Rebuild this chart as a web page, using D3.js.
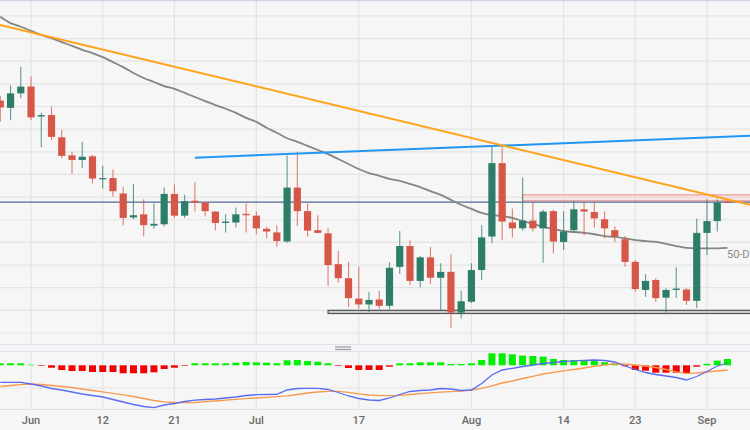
<!DOCTYPE html>
<html><head><meta charset="utf-8">
<script src="https://cdn.jsdelivr.net/npm/d3@7"></script>
<style>html,body{margin:0;padding:0;background:#f6f6f6;}svg{display:block;}</style>
</head><body>
<svg id="chart" width="750" height="430"></svg>
<script>
// ---- categories (trading days) ----
const dates = [
"2023-05-29","2023-05-30","2023-05-31",
"2023-06-01","2023-06-02","2023-06-05","2023-06-06","2023-06-07","2023-06-08","2023-06-09","2023-06-12","2023-06-13","2023-06-14","2023-06-15","2023-06-16","2023-06-19","2023-06-20","2023-06-21","2023-06-22","2023-06-23","2023-06-26","2023-06-27","2023-06-28","2023-06-29","2023-06-30",
"2023-07-03","2023-07-04","2023-07-05","2023-07-06","2023-07-07","2023-07-10","2023-07-11","2023-07-12","2023-07-13","2023-07-14","2023-07-17","2023-07-18","2023-07-19","2023-07-20","2023-07-21","2023-07-24","2023-07-25","2023-07-26","2023-07-27","2023-07-28","2023-07-31",
"2023-08-01","2023-08-02","2023-08-03","2023-08-04","2023-08-07","2023-08-08","2023-08-09","2023-08-10","2023-08-11","2023-08-14","2023-08-15","2023-08-16","2023-08-17","2023-08-18","2023-08-21","2023-08-22","2023-08-23","2023-08-24","2023-08-25","2023-08-28","2023-08-29","2023-08-30","2023-08-31",
"2023-09-01","2023-09-04","2023-09-05"];

// ---- OHLC ----
const open = [1.3613,1.3597,1.3629,1.3644,1.3578,1.3581,1.3532,1.3492,1.3482,1.3490,
1.3440,1.3442,1.3408,1.3355,1.3362,1.3337,1.3340,1.3407,1.3359,1.3392,
1.3388,1.3368,1.3343,1.3344,1.3363,1.3359,1.3330,1.3322,1.3302,1.3421,
1.3369,1.3327,1.3320,1.3252,1.3221,1.3176,1.3163,1.3174,1.3160,1.3246,
1.3292,1.3215,1.3267,1.3222,1.3235,1.3145,1.3169,1.3239,1.3313,1.3475,
1.3344,1.3331,1.3348,1.3331,1.3369,1.3301,1.3327,1.3373,1.3367,1.3351,
1.3327,1.3307,1.3257,1.3195,1.3217,1.3178,1.3195,1.3196,1.3171,1.3321,
1.3347,1.3390];
const high = [1.3623,1.3647,1.3688,1.3666,1.3586,1.3600,1.3548,1.3500,1.3522,1.3493,
1.3469,1.3461,1.3423,1.3429,1.3395,1.3386,1.3421,1.3428,1.3405,1.3433,
1.3389,1.3369,1.3362,1.3377,1.3386,1.3368,1.3335,1.3338,1.3492,1.3500,
1.3386,1.3360,1.3331,1.3281,1.3257,1.3246,1.3191,1.3193,1.3256,1.3325,
1.3305,1.3270,1.3290,1.3254,1.3274,1.3193,1.3254,1.3338,1.3511,1.3511,
1.3375,1.3443,1.3390,1.3372,1.3372,1.3369,1.3391,1.3390,1.3390,1.3368,
1.3335,1.3314,1.3261,1.3230,1.3221,1.3199,1.3245,1.3199,1.3353,1.3395,
1.3395,1.3391];
const low = [1.3567,1.3570,1.3618,1.3570,1.3510,1.3526,1.3486,1.3451,1.3464,1.3430,
1.3419,1.3401,1.3338,1.3351,1.3313,1.3330,1.3335,1.3354,1.3354,1.3368,
1.3357,1.3327,1.3322,1.3333,1.3322,1.3318,1.3309,1.3291,1.3299,1.3336,
1.3313,1.3320,1.3204,1.3211,1.3158,1.3154,1.3146,1.3153,1.3152,1.3230,
1.3206,1.3201,1.3208,1.3151,1.3111,1.3132,1.3166,1.3217,1.3298,1.3305,
1.3311,1.3326,1.3324,1.3255,1.3276,1.3283,1.3324,1.3316,1.3333,1.3309,
1.3301,1.3246,1.3191,1.3180,1.3169,1.3145,1.3177,1.3162,1.3155,1.3272,
1.3324,1.3387];
const close = [1.3598,1.3629,1.3644,1.3576,1.3581,1.3533,1.3491,1.3482,1.3489,1.3441,
1.3442,1.3413,1.3354,1.3360,1.3338,1.3341,1.3407,1.3359,1.3391,1.3388,
1.3369,1.3343,1.3346,1.3362,1.3360,1.3331,1.3324,1.3303,1.3421,1.3369,
1.3326,1.3321,1.3250,1.3221,1.3177,1.3163,1.3173,1.3160,1.3244,1.3292,
1.3215,1.3267,1.3222,1.3235,1.3145,1.3170,1.3239,1.3311,1.3475,1.3346,
1.3331,1.3348,1.3331,1.3368,1.3302,1.3324,1.3373,1.3368,1.3353,1.3331,
1.3313,1.3257,1.3197,1.3215,1.3177,1.3195,1.3198,1.3171,1.3321,1.3347,
1.3388,1.3388];

// ---- 50-day moving average ----
const sma50 = [1.3798,1.3784,1.3776,1.3767,1.3758,1.3751,1.3742,1.3734,1.3725,1.3718,
1.3709,1.3698,1.3687,1.3674,1.3663,1.3654,1.3645,1.3639,1.3630,1.3621,
1.3612,1.3603,1.3595,1.3586,1.3575,1.3566,1.3553,1.3542,1.3530,1.3522,
1.3513,1.3504,1.3495,1.3484,1.3473,1.3462,1.3453,1.3447,1.3440,1.3436,
1.3429,1.3422,1.3413,1.3405,1.3394,1.3383,1.3374,1.3365,1.3360,1.3358,
1.3354,1.3347,1.3341,1.3334,1.3330,1.3325,1.3323,1.3321,1.3318,1.3314,
1.3312,1.3309,1.3305,1.3303,1.3301,1.3297,1.3292,1.3288,1.3287,1.3287,
1.3287,1.3288];

// ---- MACD panel ----
const macd = [0.57,0.57,0.57,0.40,0.20,-0.05,-0.20,-0.40,-0.60,-0.75,
-0.90,-1.15,-1.40,-1.65,-1.85,-1.97,-1.70,-1.55,-1.35,-1.22,
-1.15,-1.10,-1.00,-0.90,-0.75,-0.67,-0.65,-0.63,-0.20,-0.05,
-0.03,-0.03,-0.15,-0.45,-0.80,-1.05,-1.20,-1.25,-1.00,-0.65,
-0.35,-0.25,-0.20,-0.05,-0.10,-0.25,-0.20,0.45,1.30,1.80,
1.97,2.15,2.30,2.45,2.55,2.65,2.72,2.77,2.80,2.75,
2.60,2.20,1.85,1.55,1.35,1.20,1.05,0.80,1.15,1.65,
2.20,2.50];
const signal = [0.15,0.25,0.33,0.40,0.35,0.25,0.15,0.05,-0.10,-0.25,
-0.38,-0.53,-0.68,-0.85,-1.05,-1.25,-1.38,-1.45,-1.47,-1.45,
-1.37,-1.30,-1.22,-1.14,-1.07,-1.00,-0.94,-0.87,-0.78,-0.65,
-0.50,-0.40,-0.33,-0.33,-0.43,-0.58,-0.70,-0.76,-0.77,-0.73,
-0.65,-0.56,-0.48,-0.41,-0.36,-0.31,-0.22,-0.03,0.22,0.50,
0.70,0.95,1.17,1.40,1.57,1.72,1.85,2.00,2.17,2.32,
2.40,2.40,2.30,2.20,2.05,1.85,1.62,1.47,1.50,1.60,
1.70,1.80];
const hist = [0.2,0.2,0.2,0.06,-0.06,-0.24,-0.47,-0.57,-0.57,-0.67,
-0.67,-0.67,-0.8,-0.8,-0.8,-0.7,-0.37,-0.24,-0.06,0.2,
0.2,0.2,0.2,0.26,0.33,0.3,0.26,0.2,0.5,0.53,
0.43,0.36,0.2,-0.06,-0.27,-0.47,-0.47,-0.47,-0.14,0.2,
0.2,0.3,0.3,0.3,0.13,0.13,0.2,0.53,1.2,1.2,
1.1,0.97,0.93,0.87,0.63,0.53,0.53,0.53,0.47,0.3,
0.2,-0.1,-0.47,-0.54,-0.74,-0.74,-0.74,-0.8,-0.14,0.15,
0.47,0.63];

// ---- ticks ----
const tickDates = ["2023-06-01","2023-06-12","2023-06-21","2023-07-03","2023-07-17","2023-08-01","2023-08-14","2023-08-23","2023-09-01"];
const tickLabels = ["Jun","12","21","Jul","17","Aug","14","23","Sep"];
const priceTicks = [1.310,1.315,1.320,1.325,1.330,1.335,1.340,1.345,1.350,1.355,1.360,1.365,1.370,1.375,1.380];

// ---- drawn studies (index, price) ----
const downTrend = [[0,1.3780],[73,1.3384]];
const upTrend = [[19,1.3487],[73,1.3535]];
const hLevel = [1.3389];
const resistZone = [51,1.3392,1.3405];
const supportZone = [32,1.3143,1.3150];
const smaLabel = ["50-D"];

const W = 750, H = 430;
const svg = d3.select("#chart");
const x = d3.scaleLinear().domain([-0.03, 73.2]).range([0, W]);
const y = d3.scaleLinear().domain([1.310, 1.380]).range([333, 15.9]);
const mY = d3.scaleLinear().domain([0, 1]).range([388, 378]);
const hY = d3.scaleLinear().domain([0, 1]).range([365.3, 355.3]);
const idx = d => dates.indexOf(d);

const mainTop = 1, mainBot = 344.5, macdTop = 351.5, macdBot = 409.5;

svg.append("rect").attr("width", W).attr("height", H).attr("fill", "#f6f6f6");

const defs = svg.append("defs");
defs.append("clipPath").attr("id","mainClip").append("rect").attr("x",0).attr("y",mainTop).attr("width",W).attr("height",mainBot-mainTop);
defs.append("clipPath").attr("id","macdClip").append("rect").attr("x",0).attr("y",macdTop).attr("width",W).attr("height",macdBot-macdTop);

const grid = svg.append("g");
grid.selectAll(".hg").data(priceTicks).join("line")
  .attr("x1",0).attr("x2",W).attr("y1",d=>y(d)).attr("y2",d=>y(d))
  .attr("stroke","#e4e4e4").attr("stroke-width",1.2);
const tickIdx = tickDates.map(idx);
grid.selectAll(".vg").data(tickIdx).join("line")
  .attr("x1",d=>x(d)).attr("x2",d=>x(d)).attr("y1",mainTop).attr("y2",mainBot)
  .attr("stroke","#e4e4e4").attr("stroke-width",1.2);
grid.selectAll(".vg2").data(tickIdx).join("line")
  .attr("x1",d=>x(d)).attr("x2",d=>x(d)).attr("y1",macdTop).attr("y2",macdBot)
  .attr("stroke","#e4e4e4").attr("stroke-width",1.2);
grid.append("line").attr("x1",0).attr("x2",W).attr("y1",mY(0)).attr("y2",mY(0)).attr("stroke","#e4e4e4").attr("stroke-width",1.2);

svg.append("line").attr("x1",0).attr("x2",W).attr("y1",0.5).attr("y2",0.5).attr("stroke","#cdd6e4").attr("stroke-width",1.5);
[mainBot, macdTop, macdBot].forEach(v => svg.append("line").attr("x1",0).attr("x2",W).attr("y1",v).attr("y2",v).attr("stroke","#dce2ea").attr("stroke-width",1.2));
[347, 349.5].forEach(v => svg.append("line").attr("x1",335).attr("x2",351).attr("y1",v).attr("y2",v).attr("stroke","#9a9a9a").attr("stroke-width",1.2));

const main = svg.append("g").attr("clip-path","url(#mainClip)");

main.append("rect").attr("x",x(supportZone[0])).attr("width",W-x(supportZone[0])+5)
  .attr("y",y(supportZone[2])).attr("height",y(supportZone[1])-y(supportZone[2]))
  .attr("fill","#cfcfcf").attr("stroke","#555").attr("stroke-width",1.2);
main.append("rect").attr("x",x(resistZone[0])).attr("width",W-x(resistZone[0])+5)
  .attr("y",y(resistZone[2])).attr("height",y(resistZone[1])-y(resistZone[2]))
  .attr("fill","rgba(255,180,180,0.25)").attr("stroke","#f0a0a0").attr("stroke-width",1.3);

main.append("line").attr("x1",0).attr("x2",W).attr("y1",y(hLevel[0])).attr("y2",y(hLevel[0]))
  .attr("stroke","#4f6a96").attr("stroke-width",1.3);

const smaLine = d3.line().x((d,i)=>x(i)).y(d=>y(d)).curve(d3.curveMonotoneX);
main.append("path").datum(sma50).attr("d",smaLine).attr("fill","none").attr("stroke","#858585").attr("stroke-width",1.8);

const up = "#2e7d68", down = "#d65747";
const cg = main.append("g");
dates.forEach((d,i) => {
  const col = close[i] >= open[i] ? up : down;
  const cx = x(i);
  cg.append("line").attr("x1",cx).attr("x2",cx).attr("y1",y(high[i])).attr("y2",y(low[i]))
    .attr("stroke",col).attr("stroke-width",1.1).attr("opacity",0.75);
  const top = y(Math.max(open[i],close[i])), bot = y(Math.min(open[i],close[i]));
  cg.append("rect").attr("x",cx-3.6).attr("width",7.2).attr("y",top).attr("height",Math.max(1.2, bot-top))
    .attr("fill",col);
});

function extLine(pts, fromStart) {
  const [a,b] = pts;
  const slope = (b[1]-a[1])/(b[0]-a[0]);
  const i0 = fromStart ? a[0] : x.invert(0);
  const i1 = x.invert(W);
  return [[i0, a[1] + slope*(i0-a[0])],[i1, a[1] + slope*(i1-a[0])]];
}
const tl = d3.line().x(d=>x(d[0])).y(d=>y(d[1]));
main.append("path").attr("d", tl(extLine(upTrend,true))).attr("stroke","#2196f3").attr("stroke-width",2).attr("fill","none");
main.append("path").attr("d", tl(extLine(downTrend,false))).attr("stroke","#ffa31a").attr("stroke-width",2).attr("fill","none");

main.append("text").attr("x", x(dates.length-1)-0.5).attr("y", y(sma50[sma50.length-1])+10)
  .text(smaLabel[0]).attr("font-family","Roboto, 'Open Sans', sans-serif").attr("font-size",11).attr("fill","#8a8a8a");

const mp = svg.append("g").attr("clip-path","url(#macdClip)");
mp.selectAll(".hb").data(hist).join("rect")
  .attr("x",(d,i)=>x(i)-3.5).attr("width",7)
  .attr("y",d=> d>=0 ? hY(d) : hY(0))
  .attr("height",d=>Math.abs(hY(d)-hY(0)))
  .attr("fill",d=> d>=0 ? "#00f000" : "#f40000");
const ml = d3.line().x((d,i)=>x(i)).y(d=>mY(d));
mp.append("path").datum(signal).attr("d",ml).attr("fill","none").attr("stroke","#f79a4e").attr("stroke-width",1.3);
mp.append("path").datum(macd).attr("d",ml).attr("fill","none").attr("stroke","#5b6cf0").attr("stroke-width",1.3);

svg.append("g").selectAll("text").data(tickIdx).join("text")
  .attr("x",d=>x(d)).attr("y",423.5).attr("text-anchor","middle")
  .text((d,i)=>tickLabels[i])
  .attr("font-family","Roboto, 'Open Sans', sans-serif").attr("font-size",11).attr("font-weight",500).attr("fill","#6a6a6a");
</script>
</body></html>
